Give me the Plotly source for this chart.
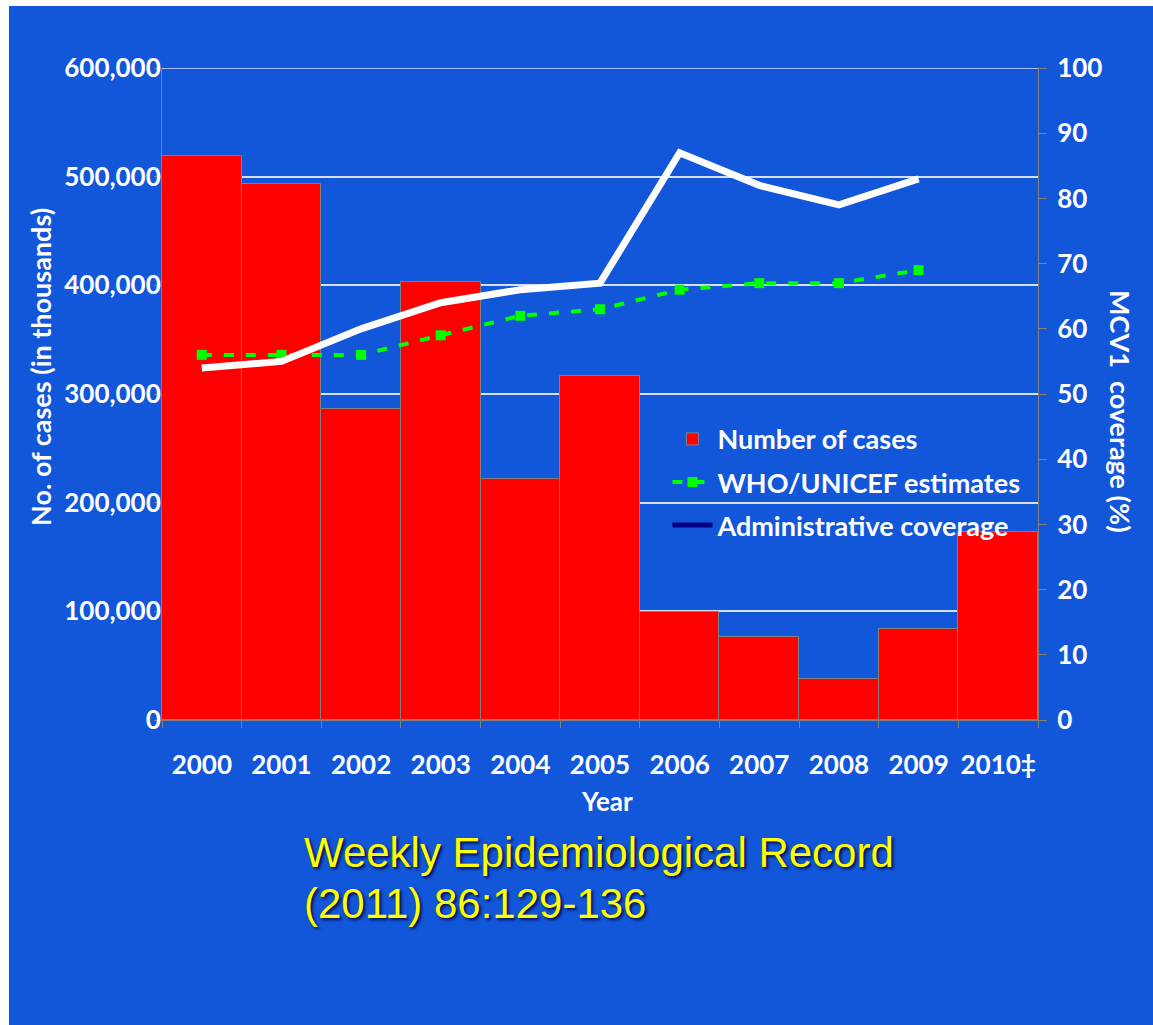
import plotly.graph_objects as go

# Measles cases and MCV1 coverage, 2000-2010
years = ["2000", "2001", "2002", "2003", "2004", "2005", "2006", "2007", "2008", "2009", "2010‡"]
cases = [519000, 493000, 286000, 403000, 222000, 317000, 99000, 76000, 38000, 84000, 173000]

coverage_years = ["2000", "2001", "2002", "2003", "2004", "2005", "2006", "2007", "2008", "2009"]
who_unicef = [56, 56, 56, 59, 62, 63, 66, 67, 67, 69]
administrative = [54, 55, 60, 64, 66, 67, 87, 82, 79, 83]

y_ticks = [0, 100000, 200000, 300000, 400000, 500000, 600000]
y2_ticks = [0, 10, 20, 30, 40, 50, 60, 70, 80, 90, 100]

BLUE = "#1256DA"
GRAY = "#808080"
GRID = "rgba(235,240,255,0.9)"
FONT = "Lato"

fig = go.Figure()

fig.add_trace(go.Bar(
    x=years, y=cases, name="Number of cases",
    marker=dict(color="#FF0000", line=dict(color=GRAY, width=1)),
    legendgroup="a", yaxis="y",
))

fig.add_trace(go.Scatter(
    x=coverage_years, y=who_unicef, name="WHO/UNICEF estimates",
    mode="lines+markers",
    line=dict(color="#00FF00", width=4, dash="10px,12px"),
    marker=dict(symbol="square", size=10, color="#00FF00"),
    legendgroup="b", yaxis="y2",
))

fig.add_trace(go.Scatter(
    x=coverage_years, y=administrative, name="Administrative coverage",
    mode="lines", line=dict(color="white", width=7),
    showlegend=False, yaxis="y2",
))

# legend key for the administrative series
fig.add_trace(go.Scatter(
    x=[None], y=[None], name="Administrative coverage",
    mode="lines", line=dict(color="#000080", width=5),
    legendgroup="c", yaxis="y2",
))

tick_font = dict(family=FONT, size=26, color="white", weight=700)

fig.update_layout(
    width=1153, height=1025,
    margin=dict(l=162, r=115, t=68, b=305),
    paper_bgcolor="white",
    plot_bgcolor="rgba(0,0,0,0)",
    bargap=0,
    showlegend=True,
    legend=dict(
        x=0.577, y=0.468, xanchor="left", yanchor="top",
        bgcolor="rgba(0,0,0,0)",
        font=dict(family=FONT, size=27, color="white", weight=700),
        traceorder="grouped", tracegroupgap=5,
        itemwidth=40,
    ),
    xaxis=dict(
        type="category",
        range=[-0.5, 10.5],
        tickfont=tick_font, tickangle=0,
        showline=True, linecolor=GRAY, linewidth=1,
        ticks="outside", tickson="boundaries", ticklen=7, tickcolor=GRAY,
        ticklabelstandoff=22,
        showgrid=False,
    ),
    yaxis=dict(
        range=[0, 600000], tickvals=y_ticks, tickformat=",",
        tickfont=tick_font,
        showline=True, linecolor=GRAY, linewidth=1,
        ticks="outside", ticklen=7, tickcolor=GRAY,
        ticklabelstandoff=-12,
        showgrid=True, gridcolor=GRID, gridwidth=1.5,
        zeroline=False,
    ),
    yaxis2=dict(
        range=[0, 100], tickvals=y2_ticks,
        overlaying="y", side="right",
        tickfont=tick_font,
        showline=True, linecolor=GRAY, linewidth=1,
        ticks="outside", ticklen=8, tickcolor=GRAY,
        ticklabelstandoff=5,
        showgrid=False, zeroline=False,
    ),
    shapes=[
        dict(
            type="rect", xref="paper", yref="paper", layer="below",
            x0=-0.1747, x1=1.1313, y0=-0.4678, y1=1.0951,
            fillcolor=BLUE, line=dict(width=0),
        ),
        # gridline at the top of the value axis
        dict(
            type="line", xref="paper", yref="y", layer="below",
            x0=0, x1=1, y0=y_ticks[-1], y1=y_ticks[-1],
            line=dict(color=GRID, width=1.5),
        ),
    ],
)

title_font = dict(family=FONT, size=27, color="white", weight=700)
year_font = dict(family=FONT, size=26, color="white", weight=700)
caption_font = dict(family="Liberation Sans, Arial", size=42, color="#FFFF00",
                    shadow="2px 2px 3px rgba(0,0,50,0.85)")

fig.add_annotation(
    text="No. of cases (in thousands)", textangle=-90,
    xref="paper", yref="paper", x=-0.1393, y=0.5414,
    xanchor="center", yanchor="middle", showarrow=False, font=title_font,
)
fig.add_annotation(
    text="MCV1  coverage (%)", textangle=90,
    xref="paper", yref="paper", x=1.0936, y=0.4724,
    xanchor="center", yanchor="middle", showarrow=False, font=title_font,
)
fig.add_annotation(
    text="Year", xref="paper", yref="paper", x=0.508, y=-0.1242,
    xanchor="center", yanchor="middle", showarrow=False, font=year_font,
)
fig.add_annotation(
    text="Weekly Epidemiological Record", xref="paper", yref="paper",
    x=0.1598, y=-0.203, xanchor="left", yanchor="middle",
    showarrow=False, font=caption_font,
)
fig.add_annotation(
    text="(2011) 86:129-136", xref="paper", yref="paper",
    x=0.1598, y=-0.2807, xanchor="left", yanchor="middle",
    showarrow=False, font=caption_font,
)

fig.write_html("out.html")
